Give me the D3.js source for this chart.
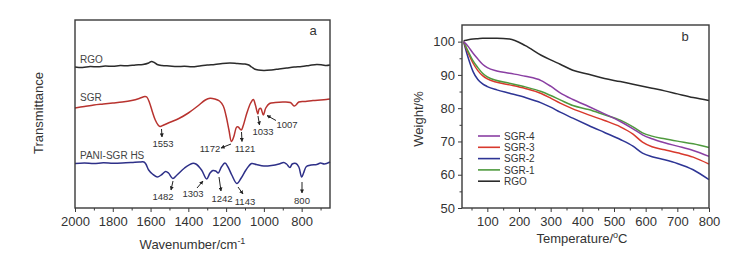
<!DOCTYPE html>
<html>
<head>
<meta charset="utf-8">
<script src="https://cdn.jsdelivr.net/npm/d3@7"></script>
<style>
  body { margin: 0; background: #fff; }
  svg { display: block; font-family: "Liberation Sans", Arial, sans-serif; }
</style>
</head>
<body>
<svg id="chart" width="743" height="261"></svg>
<script>
// ---- panel a : FTIR (wavenumber, transmittance a.u. with offsets) ----
const rgoWn = [2000,1960,1920,1880,1840,1800,1760,1720,1680,1640,1610,1595,1580,1565,1540,1500,1460,1420,1380,1340,1300,1260,1220,1180,1140,1100,1080,1065,1050,1030,1000,960,920,880,840,800,760,720,690,670,650];
const rgoT  = [141,140.5,141.5,141.2,142,141.7,142.5,142.2,143,143.5,145,146.5,145.5,143.5,142.5,142,141.5,141.7,141.2,142,143,143.5,144.5,145,144.5,144,143,141,139,138,137.5,138,139,140,141,141.5,142.5,143.5,143,142.5,143];

const sgrWn = [2000,1950,1900,1850,1800,1750,1700,1660,1630,1620,1605,1590,1575,1560,1550,1530,1500,1450,1400,1350,1310,1285,1260,1235,1215,1200,1185,1172,1160,1144,1136,1120,1110,1090,1070,1056,1045,1032,1025,1016,1003,990,970,940,900,860,840,830,815,780,740,700,670,650];
const sgrT  = [100,101.5,103,104,105,106,107.5,109.5,111.5,111,105,96,88,83,81.5,83,85.5,89.5,95,102,108,109.7,109,107,102,92,78,66.5,71,81,81,78,82,95,105,108.5,103,94,99,99.5,93,100,104.5,105.5,106,105.5,102,103,106,106.5,107.5,108,108.5,109];

const paniWn = [2000,1950,1900,1850,1800,1750,1700,1660,1635,1625,1610,1590,1565,1540,1520,1505,1482,1460,1420,1380,1360,1330,1303,1285,1270,1255,1242,1225,1206,1190,1170,1143,1120,1095,1065,1040,1000,960,920,895,880,862,850,830,815,800,790,775,750,720,700,680,650];
const paniT  = [44.5,45,44.5,45.2,44.8,45,45.5,46,46,44,38,34,31,33.5,36.5,35,29.5,33,40,44.5,44,38,29,35,37.5,37,35,41,45,41,33,24.5,30,38,44.5,43.5,42,42.5,44,45.5,44,40.5,44,44.5,41,31,35,41.5,43,43.5,45,44,46];

const ftirNames = ["RGO", "SGR", "PANI-SGR HS"];
const ftirColors = ["#2b2b2b", "#b8332f", "#2e3088"];
const wnTicks = [2000,1800,1600,1400,1200,1000,800];

// peak labels: [series index, wavenumber label]
const sgrPeaks = [1553, 1172, 1121, 1033, 1007];
const paniPeaks = [1482, 1303, 1242, 1143, 800];

// ---- panel b : TGA ----
const temps = [25,40,55,70,85,100,130,170,220,270,300,330,370,420,470,520,560,590,620,660,700,750,800];
const tgaRGO  = [100.3,100.6,100.8,100.9,101,101,101,100.8,98.8,95.9,94.5,93.2,91.4,90.2,88.9,88,87.2,86.6,86,85.2,84.3,83.2,82.3];
const tgaSGR4 = [100,98.5,96.5,94.8,93.2,92.2,91.2,90.5,89.6,88.3,86.6,84.6,82.6,80.5,78.3,76,73.8,72,70.8,69.6,68.6,67.3,65.5];
const tgaSGR3 = [100,96.5,93.5,91.3,89.8,88.8,87.8,87,85.9,84.4,83,81.5,79.8,78,76.3,74.4,72.2,69.8,68.4,67.5,66.6,65.3,63.2];
const tgaSGR2 = [100,95,91,88.6,87.3,86.5,85.5,84.5,83.2,81.6,80.3,78.8,77,74.8,72.7,70.6,68.6,66.5,65.4,64.5,63.4,61.5,58.5];
const tgaSGR1 = [100,97,94.2,92.2,90.5,89.4,88.3,87.5,86.4,85,83.8,82.5,80.8,79.6,78,76.4,74.4,72.6,71.6,70.8,70.1,69.3,68.2];

const tgaNames = ["SGR-4", "SGR-3", "SGR-2", "SGR-1", "RGO"];
const tgaColors = ["#8a3fa3", "#d8392d", "#2e3595", "#4f9a3e", "#2b2b2b"];
const tempTicks = [100,200,300,400,500,600,700,800];
const weightTicks = [50,60,70,80,90,100];

const svg = d3.select("#chart");
const textColor = "#333";

// ================= panel a =================
const A = {left: 75, top: 20, right: 330, bottom: 208};
const xA = d3.scaleLinear().domain([2000, 650]).range([A.left, A.right]);
const yA = d3.scaleLinear().domain([0, 188]).range([A.bottom, A.top]);

const lineA = d3.line()
    .x(d => xA(d[0]))
    .y(d => yA(d[1]))
    .curve(d3.curveCatmullRom.alpha(0.5));

const ftir = [
    d3.zip(rgoWn, rgoT),
    d3.zip(sgrWn, sgrT),
    d3.zip(paniWn, paniT)
];

const gA = svg.append("g");
gA.selectAll("path.spec")
    .data(ftir)
    .join("path")
    .attr("class", "spec")
    .attr("d", lineA)
    .attr("fill", "none")
    .attr("stroke", (d, i) => ftirColors[i])
    .attr("stroke-width", 1.5);

gA.append("rect")
    .attr("x", A.left).attr("y", A.top)
    .attr("width", A.right - A.left).attr("height", A.bottom - A.top)
    .attr("fill", "none").attr("stroke", "#3a3a3a").attr("stroke-width", 1.4);

// bottom axis
const axA = gA.append("g")
    .attr("transform", `translate(0,${A.bottom})`)
    .call(d3.axisBottom(xA).tickValues(wnTicks).tickSize(4).tickPadding(5).tickFormat(d3.format("d")));
axA.select(".domain").remove();
axA.selectAll("text").attr("font-size", 13).attr("fill", textColor);
axA.selectAll("line").attr("stroke", "#3a3a3a");
gA.append("g")
    .attr("transform", `translate(0,${A.bottom})`)
    .call(d3.axisBottom(xA).tickValues(d3.range(1900, 650, -200)).tickSize(2.5).tickFormat(""))
    .call(g => g.select(".domain").remove())
    .selectAll("line").attr("stroke", "#3a3a3a");

// series names
const nameY = [63, 101, 159];
gA.selectAll("text.sname")
    .data(ftirNames)
    .join("text")
    .attr("class", "sname")
    .attr("x", 80)
    .attr("y", (d, i) => nameY[i])
    .attr("font-size", 10)
    .attr("fill", "#444")
    .text(d => d);

// peak annotations: label position relative to curve, arrow from label toward curve
const annot = [
    {v: 1553, tx: 163, ty: 147, ax1: 161.5, ay1: 129, ax2: 162, ay2: 137},
    {v: 1172, tx: 210, ty: 152, ax1: 231, ay1: 144, ax2: 221, ay2: 148},
    {v: 1121, tx: 245, ty: 152, ax1: 241.5, ay1: 132, ax2: 242, ay2: 141.5},
    {v: 1033, tx: 263, ty: 135, ax1: 258, ay1: 116, ax2: 259.5, ay2: 125},
    {v: 1007, tx: 287, ty: 128, ax1: 276, ay1: 120.5, ax2: 267, ay2: 115.5},
    {v: 1482, tx: 163, ty: 200, ax1: 173, ay1: 181, ax2: 171, ay2: 190},
    {v: 1303, tx: 193, ty: 197, ax1: 197, ay1: 188, ax2: 203, ay2: 181},
    {v: 1242, tx: 222, ty: 202, ax1: 219, ay1: 177, ax2: 221, ay2: 191},
    {v: 1143, tx: 245, ty: 205, ax1: 238, ay1: 187, ax2: 243, ay2: 194},
    {v: 800,  tx: 302, ty: 204, ax1: 302, ay1: 182, ax2: 302, ay2: 193}
];

const defs = svg.append("defs");
defs.append("marker")
    .attr("id", "ah")
    .attr("viewBox", "0 0 10 10")
    .attr("refX", 9).attr("refY", 5)
    .attr("markerWidth", 4).attr("markerHeight", 4)
    .attr("orient", "auto")
    .append("path").attr("d", "M0,0L10,5L0,10z").attr("fill", "#222");

gA.selectAll("line.arr")
    .data(annot)
    .join("line")
    .attr("class", "arr")
    .attr("x1", d => d.ax1).attr("y1", d => d.ay1)
    .attr("x2", d => d.ax2).attr("y2", d => d.ay2)
    .attr("stroke", "#222").attr("stroke-width", 1)
    .attr("marker-end", "url(#ah)");

gA.selectAll("text.pk")
    .data(annot)
    .join("text")
    .attr("class", "pk")
    .attr("x", d => d.tx).attr("y", d => d.ty)
    .attr("text-anchor", "middle")
    .attr("font-size", 9.5)
    .attr("fill", textColor)
    .text(d => d.v);

gA.append("text")
    .attr("x", 313).attr("y", 35)
    .attr("text-anchor", "middle")
    .attr("font-size", 13).attr("fill", textColor)
    .text("a");

const xtA = gA.append("text")
    .attr("x", (A.left + A.right) / 2 - 10).attr("y", 249)
    .attr("text-anchor", "middle")
    .attr("font-size", 13).attr("fill", textColor);
xtA.append("tspan").text("Wavenumber/cm");
xtA.append("tspan").attr("dy", -5).attr("font-size", 9).text("-1");

gA.append("text")
    .attr("transform", "translate(43,113) rotate(-90)")
    .attr("text-anchor", "middle")
    .attr("font-size", 13).attr("fill", textColor)
    .text("Transmittance");

// ================= panel b =================
const B = {left: 462, top: 25, right: 709, bottom: 208};
const xB = d3.scaleLinear().domain([20, 800]).range([B.left, B.right]);
const yB = d3.scaleLinear().domain([50, 105]).range([B.bottom, B.top]);

const lineB = d3.line()
    .x(d => xB(d[0]))
    .y(d => yB(d[1]))
    .curve(d3.curveMonotoneX);

const tga = [tgaSGR4, tgaSGR3, tgaSGR2, tgaSGR1, tgaRGO].map(s => d3.zip(temps, s));
const drawOrder = [4, 2, 1, 3, 0];

const gB = svg.append("g");
gB.selectAll("path.tga")
    .data(drawOrder)
    .join("path")
    .attr("class", "tga")
    .attr("d", i => lineB(tga[i]))
    .attr("fill", "none")
    .attr("stroke", i => tgaColors[i])
    .attr("stroke-width", 1.5);

gB.append("rect")
    .attr("x", B.left).attr("y", B.top)
    .attr("width", B.right - B.left).attr("height", B.bottom - B.top)
    .attr("fill", "none").attr("stroke", "#3a3a3a").attr("stroke-width", 1.4);

const axBx = gB.append("g")
    .attr("transform", `translate(0,${B.bottom})`)
    .call(d3.axisBottom(xB).tickValues(tempTicks).tickSize(4).tickPadding(5));
axBx.select(".domain").remove();
axBx.selectAll("text").attr("font-size", 13).attr("fill", textColor);
axBx.selectAll("line").attr("stroke", "#3a3a3a");
gB.append("g")
    .attr("transform", `translate(0,${B.bottom})`)
    .call(d3.axisBottom(xB).tickValues(d3.range(50, 800, 100)).tickSize(2.5).tickFormat(""))
    .call(g => g.select(".domain").remove())
    .selectAll("line").attr("stroke", "#3a3a3a");

const axBy = gB.append("g")
    .attr("transform", `translate(${B.left},0)`)
    .call(d3.axisLeft(yB).tickValues(weightTicks).tickSize(4).tickPadding(3));
axBy.select(".domain").remove();
axBy.selectAll("text").attr("font-size", 13).attr("fill", textColor);
axBy.selectAll("line").attr("stroke", "#3a3a3a");
gB.append("g")
    .attr("transform", `translate(${B.left},0)`)
    .call(d3.axisLeft(yB).tickValues(d3.range(55, 105, 10)).tickSize(2.5).tickFormat(""))
    .call(g => g.select(".domain").remove())
    .selectAll("line").attr("stroke", "#3a3a3a");

// legend
const leg = gB.append("g").selectAll("g")
    .data(tgaNames)
    .join("g")
    .attr("transform", (d, i) => `translate(478,${136 + i * 11.3})`);
leg.append("line")
    .attr("x1", 0).attr("x2", 22)
    .attr("stroke", (d, i) => tgaColors[i]).attr("stroke-width", 1.6);
leg.append("text")
    .attr("x", 26).attr("y", 3.8)
    .attr("font-size", 10).attr("fill", textColor)
    .text(d => d);

gB.append("text")
    .attr("x", 685).attr("y", 41)
    .attr("text-anchor", "middle")
    .attr("font-size", 13).attr("fill", textColor)
    .text("b");

const xtB = gB.append("text")
    .attr("x", 582).attr("y", 243)
    .attr("text-anchor", "middle")
    .attr("font-size", 13).attr("fill", textColor);
xtB.append("tspan").text("Temperature/");
xtB.append("tspan").attr("dy", -5).attr("font-size", 9).text("o");
xtB.append("tspan").attr("dy", 5).text("C");

gB.append("text")
    .attr("transform", "translate(423,119) rotate(-90)")
    .attr("text-anchor", "middle")
    .attr("font-size", 13).attr("fill", textColor)
    .text("Weight/%");
</script>
</body>
</html>
